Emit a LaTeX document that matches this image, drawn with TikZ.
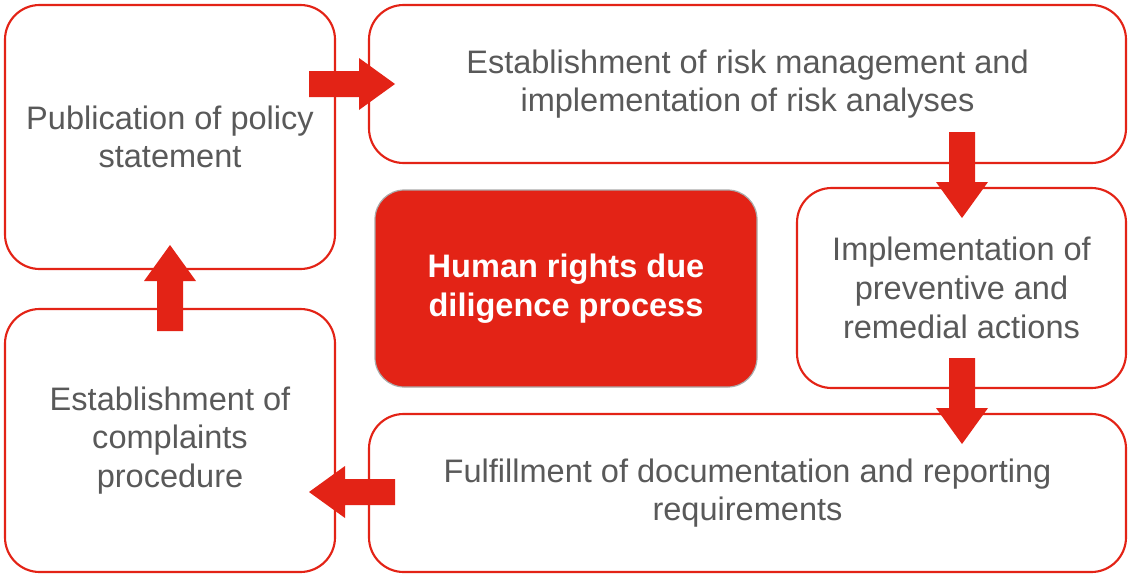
\documentclass[tikz,border=0pt]{standalone}
\usepackage{fontspec}
\setmainfont{Liberation Sans}
\definecolor{stepred}{RGB}{227,35,22}
\definecolor{stepgray}{RGB}{89,89,89}
\tikzset{every picture/.style={line width=0.75pt}}
\tikzset{
  stepbox/.style={draw=stepred, line width=1.6pt, fill=white, rounded corners=26pt, align=center,
    text=stepgray, font=\fontsize{24.4}{29}\selectfont, inner sep=0pt},
  corebox/.style={draw={rgb,255:red,170;green,170;blue,170}, line width=0.9pt, fill=stepred, rounded corners=22pt,
    align=center, text=white, font=\bfseries\fontsize{24.4}{29}\selectfont, inner sep=0pt},
  blockarrow/.style={fill=stepred, draw=none}
}

\begin{document}
\begin{tikzpicture}[x=0.75pt,y=0.75pt,yscale=-1,xscale=1]
	\useasboundingbox (0,0) rectangle (1128,575);

	\node [stepbox, minimum width=247.5pt, minimum height=198pt] (policy) at (170,137) {Publication of policy\\statement};
	\node [stepbox, minimum width=567.75pt, minimum height=118.5pt] (risk) at (747.5,84) {Establishment of risk management and\\implementation of risk analyses};
	\node [stepbox, minimum width=246.75pt, minimum height=150pt] (actions) at (961.5,288) {Implementation of\\preventive and\\remedial actions};
	\node [stepbox, minimum width=567.75pt, minimum height=118.5pt] (report) at (747.5,493) {Fulfillment of documentation and reporting\\requirements};
	\node [stepbox, minimum width=247.5pt, minimum height=197.25pt] (complaints) at (170,440.5) {Establishment of\\complaints\\procedure};
	\node [corebox, minimum width=286.5pt, minimum height=147.75pt] (core) at (566,288.5) {Human rights due\\diligence process};

	% arrows between the steps
	\draw [blockarrow, shift={(395,84)}, rotate = 0] (0,0) -- (-36,-26) -- (-36,-13) -- (-86,-13) -- (-86,13) -- (-36,13) -- (-36,26) -- cycle ;
	\draw [blockarrow, shift={(962,218)}, rotate = 90] (0,0) -- (-36,-26) -- (-36,-13) -- (-86,-13) -- (-86,13) -- (-36,13) -- (-36,26) -- cycle ;
	\draw [blockarrow, shift={(962,444)}, rotate = 90] (0,0) -- (-36,-26) -- (-36,-13) -- (-86,-13) -- (-86,13) -- (-36,13) -- (-36,26) -- cycle ;
	\draw [blockarrow, shift={(309,492)}, rotate = 180] (0,0) -- (-36,-26) -- (-36,-13) -- (-86,-13) -- (-86,13) -- (-36,13) -- (-36,26) -- cycle ;
	\draw [blockarrow, shift={(170,245)}, rotate = 270] (0,0) -- (-36,-26) -- (-36,-13) -- (-86,-13) -- (-86,13) -- (-36,13) -- (-36,26) -- cycle ;
\end{tikzpicture}
\end{document}
